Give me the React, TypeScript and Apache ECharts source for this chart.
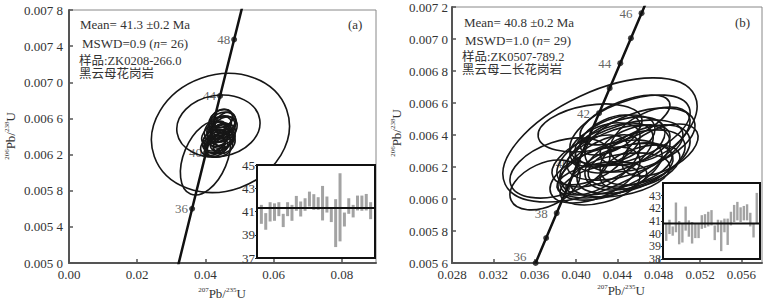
import { useEffect, useRef } from "react";
import * as echarts from "echarts";

// ---------- DATA ----------
// Panel (a) concordia points [207Pb/235U, 206Pb/238U] for ages (Ma)
const concLineA = [
  [0.0320171, 0.0049763],
  [0.0360906, 0.0056001],
  [0.0401803, 0.0062243],
  [0.044286, 0.0068489],
  [0.048408, 0.0074738],
  [0.0515101, 0.0079428],
];
const concDotsA = [
  [0.0360906, 0.0056001, 36],
  [0.0401803, 0.0062243, 40],
  [0.044286, 0.0068489, 44],
  [0.048408, 0.0074738, 48],
];
// Panel (b) concordia points, one per Ma from 36 to 47
const concLineB = [
  [0.0360906, 0.0056001],
  [0.0371114, 0.0057561],
  [0.0381334, 0.0059121],
  [0.0391563, 0.0060682],
  [0.0401803, 0.0062243],
  [0.0412052, 0.0063804],
  [0.0422312, 0.0065365],
  [0.0432581, 0.0066927],
  [0.044286, 0.0068489],
  [0.0453149, 0.0070051],
  [0.0463449, 0.0071613],
  [0.0473759, 0.0073175],
];
const concAgesB = [36, 37, 38, 39, 40, 41, 42, 43, 44, 45, 46, 47];
const labeledAgesB = [36, 38, 40, 42, 44, 46];

// Error ellipses [x, y, half-width x, half-width y, rho]
const ellA = [
  [0.0444, 0.006439, 0.0202, 0.000658, 0.12],
  [0.0438, 0.006516, 0.0122, 0.000343, 0.1],
  [0.04, 0.006162, 0.00735, 0.000409, 0.4],
  [0.0445, 0.00658, 0.0035, 0.00012, 0.3],
  [0.045, 0.00654, 0.004, 0.00013, 0.2],
  [0.044, 0.0065, 0.0036, 0.00012, 0.4],
  [0.0455, 0.00648, 0.0038, 0.00014, 0.3],
  [0.0438, 0.00645, 0.0032, 0.00011, 0.2],
  [0.0452, 0.00642, 0.0036, 0.00012, 0.3],
  [0.0445, 0.0064, 0.004, 0.00013, 0.1],
  [0.0428, 0.00636, 0.0036, 0.00012, 0.3],
  [0.0448, 0.00635, 0.0034, 0.00011, 0.4],
  [0.0435, 0.00633, 0.0038, 0.00012, 0.2],
  [0.0455, 0.00632, 0.0032, 0.00011, 0.3],
  [0.0422, 0.0063, 0.0036, 0.00011, 0.3],
  [0.044, 0.00629, 0.004, 0.00012, 0.2],
  [0.0432, 0.00628, 0.0034, 0.0001, 0.3],
  [0.0458, 0.00655, 0.003, 0.00012, 0.3],
  [0.0425, 0.00644, 0.0036, 0.00013, 0.5],
  [0.0448, 0.0066, 0.0032, 0.0001, 0.2],
  [0.0438, 0.00638, 0.0028, 0.00009, 0.3],
  [0.0457, 0.00638, 0.003, 0.0001, 0.2],
  [0.0427, 0.00632, 0.003, 0.0001, 0.4],
  [0.0447, 0.00646, 0.0028, 0.00009, 0.3],
  [0.0442, 0.00648, 0.0045, 0.00015, 0.3],
  [0.0435, 0.00636, 0.0044, 0.00014, 0.3],
];
const ellB = [
  [0.04232, 0.006369, 0.00939, 0.000388, 0.55],
  [0.04136, 0.006444, 0.00503, 0.00015, 0.3],
  [0.03845, 0.006194, 0.00484, 0.000188, 0.4],
  [0.037, 0.006088, 0.00339, 0.000156, 0.4],
  [0.04523, 0.006431, 0.00581, 0.000219, 0.5],
  [0.04619, 0.006369, 0.00532, 0.0002, 0.45],
  [0.04474, 0.006306, 0.00561, 0.000188, 0.5],
  [0.04377, 0.006244, 0.00532, 0.000219, 0.5],
  [0.04426, 0.006338, 0.00435, 0.000175, 0.45],
  [0.04281, 0.006275, 0.00465, 0.0002, 0.55],
  [0.04571, 0.006244, 0.00484, 0.000188, 0.45],
  [0.04329, 0.006181, 0.00503, 0.000188, 0.5],
  [0.04474, 0.00619, 0.00465, 0.000156, 0.4],
  [0.04232, 0.006213, 0.00387, 0.000188, 0.6],
  [0.04668, 0.006275, 0.00435, 0.000188, 0.45],
  [0.04377, 0.006369, 0.00387, 0.000156, 0.45],
  [0.04523, 0.006213, 0.00406, 0.000138, 0.4],
  [0.04184, 0.00615, 0.00435, 0.000175, 0.5],
  [0.04426, 0.00615, 0.00484, 0.000138, 0.35],
  [0.04716, 0.0064, 0.00387, 0.000175, 0.5],
  [0.04281, 0.006338, 0.00339, 0.000138, 0.4],
  [0.04474, 0.006494, 0.00435, 0.000156, 0.6],
  [0.04619, 0.0062, 0.00387, 0.000138, 0.45],
  [0.04136, 0.006244, 0.00368, 0.000156, 0.5],
  [0.0425, 0.00612, 0.00435, 0.000113, 0.35],
  [0.04571, 0.006338, 0.00339, 0.000125, 0.45],
  [0.04329, 0.0064, 0.0029, 0.000125, 0.5],
  [0.04232, 0.006088, 0.00387, 0.000125, 0.4],
  [0.04813, 0.006306, 0.00368, 0.000163, 0.5],
];

// Inset age bars (Ma): low / high
const insetALow = [39.94, 39.43, 40.14, 40.2, 40.6, 39.66, 40.6, 40.2, 41.06, 40.57, 41.06, 41.43, 41.14, 41.14, 40.23, 40.91, 40.09, 37.94, 38.43, 39.71, 40.8, 40.49, 41.09, 41.06, 41.09, 40.34];
const insetAHigh = [41.57, 40.86, 41.8, 41.7, 41.8, 40.8, 41.8, 41.57, 42.34, 41.86, 42.14, 42.71, 42.49, 42.23, 43.2, 42.29, 41.29, 42.06, 44.29, 40.91, 42.14, 41.57, 42.37, 42.37, 42.51, 41.8];
const meanA = 41.3;
const insetBLow = [39.43, 39.97, 39.84, 40.11, 39.16, 39.3, 40.24, 39.76, 39.22, 39.65, 39.65, 40.38, 40.46, 40.57, 40.65, 39.49, 40.11, 38.62, 40.11, 39.11, 40.65, 40.92, 41.05, 40.92, 41.05, 41.05, 40.57, 39.7, 40.84];
const insetBHigh = [40.84, 41.1, 40.57, 42.46, 41.0, 40.78, 42.14, 41.05, 40.92, 40.84, 40.84, 41.46, 41.54, 41.73, 41.86, 40.65, 41.1, 41.05, 41.19, 41.19, 41.73, 42.27, 42.51, 42.08, 42.19, 42.32, 41.65, 40.78, 43.22];
const meanB = 40.8;

// Tick labels
const xTicksA = [0, 0.02, 0.04, 0.06, 0.08];
const yTicksA = [0.005, 0.0054, 0.0058, 0.0062, 0.0066, 0.007, 0.0074, 0.0078];
const xTicksB = [0.028, 0.032, 0.036, 0.04, 0.044, 0.048, 0.052, 0.056];
const yTicksB = [0.0056, 0.0058, 0.006, 0.0062, 0.0064, 0.0066, 0.0068, 0.007, 0.0072];
const insetTicksA = [37, 39, 41, 43, 45];
const insetTicksB = [38, 39, 40, 41, 42, 43];

// ---------- RENDER ----------
const SERIF = "'Liberation Serif', 'Times New Roman', serif";
const CJK = "'Liberation Serif', 'Noto Sans CJK SC', serif";

function ellipseItem(_p: any, api: any) {
  const c = api.coord([api.value(0), api.value(1)]);
  const s = api.size([api.value(2), api.value(3)], [api.value(0), api.value(1)]);
  const rho = api.value(4);
  const a = s[0] * s[0];
  const d = s[1] * s[1];
  const b = rho * s[0] * s[1];
  const m = (a + d) / 2;
  const h = Math.sqrt(((a - d) / 2) ** 2 + b * b);
  const rx = Math.sqrt(m + h);
  const ry = Math.sqrt(Math.max(m - h, 0));
  const rot = 0.5 * Math.atan2(2 * b, a - d);
  return {
    type: "ellipse",
    x: c[0],
    y: c[1],
    rotation: rot,
    shape: { cx: 0, cy: 0, rx, ry },
    style: { fill: "none", stroke: "#161616", lineWidth: 1.6 },
  };
}

function barItem(w: number) {
  return (_p: any, api: any) => {
    const x = api.value(0);
    const p = api.coord([x, api.value(2)]);
    const q = api.coord([x, api.value(1)]);
    return {
      type: "rect",
      shape: { x: p[0] - w / 2, y: p[1], width: w, height: q[1] - p[1] },
      style: { fill: "#a3a3a3" },
    };
  };
}

const yFmt = (v: number) => {
  const s = v.toFixed(4);
  return s.slice(0, -1) + " " + s.slice(-1);
};

function mainAxis(min: number, max: number, ticks: number[], fmt: (v: number) => string, gridIndex: number, margin: number) {
  return {
    type: "value",
    gridIndex,
    min,
    max,
    axisLine: { show: true, lineStyle: { color: "#555", width: 2 } },
    axisTick: { show: true, inside: true, length: 4, customValues: ticks, lineStyle: { color: "#555", width: 1.5 } },
    axisLabel: {
      show: true, customValues: ticks, formatter: fmt, color: "#333", fontFamily: SERIF, fontSize: 13, margin,
      showMinLabel: true, showMaxLabel: true,
    },
    splitLine: { show: false },
  };
}

function insetYAxis(min: number, max: number, ticks: number[], gridIndex: number, fontSize: number) {
  return {
    type: "value",
    gridIndex,
    min,
    max,
    z: 12,
    axisLine: { show: false },
    axisTick: { show: true, inside: false, length: 2, customValues: ticks, lineStyle: { color: "#222", width: 1 } },
    axisLabel: {
      show: true, customValues: ticks, color: "#333", fontFamily: SERIF, fontSize, lineHeight: fontSize, margin: 2,
      showMinLabel: true, showMaxLabel: true, hideOverlap: false,
    },
    splitLine: { show: false },
  };
}

const richLabel = {
  s: { fontSize: 7, fontFamily: SERIF, fill: "#333", verticalAlign: "top", lineHeight: 13 },
  m: { fontSize: 13, fontFamily: SERIF, fill: "#333", lineHeight: 13 },
};

export default function App() {
  const ref = useRef<HTMLDivElement>(null);
  useEffect(() => {
    if (!ref.current) return;
    const chart = echarts.init(ref.current, undefined, { renderer: "svg" });
    const barsA = insetALow.map((lo, i) => [i + 1, lo, insetAHigh[i]]);
    const barsB = insetBLow.map((lo, i) => [i + 1, lo, insetBHigh[i]]);
    const dotsB = concLineB
      .map((p, i) => [p[0], p[1], concAgesB[i]])
      .filter((p) => p[2] <= 46)
      .map((p, i) => (i === 0 ? { value: p, label: { offset: [0, -6] } } : { value: p }));

    const option: any = {
      animation: false,
      backgroundColor: "#fff",
      grid: [
        { left: 69, top: 10, width: 307, height: 253, show: true, borderColor: "#888", borderWidth: 1, backgroundColor: "transparent" },
        { left: 452, top: 7, width: 310, height: 256, show: true, borderColor: "#888", borderWidth: 1, backgroundColor: "transparent" },
        { left: 257, top: 165, width: 118, height: 93, show: true, borderColor: "#111", borderWidth: 2, backgroundColor: "#fff", z: 10 },
        { left: 663, top: 183, width: 97, height: 76, show: true, borderColor: "#111", borderWidth: 2, backgroundColor: "#fff", z: 10 },
      ],
      xAxis: [
        mainAxis(0, 0.09, xTicksA, (v: number) => v.toFixed(2), 0, 5),
        mainAxis(0.028, 0.058, xTicksB, (v: number) => v.toFixed(3), 1, 5),
        { type: "value", gridIndex: 2, min: 0, max: 27, show: false },
        { type: "value", gridIndex: 3, min: 0, max: 30, show: false },
      ],
      yAxis: [
        mainAxis(0.005, 0.0078, yTicksA, yFmt, 0, 6),
        mainAxis(0.0056, 0.0072, yTicksB, yFmt, 1, 4),
        insetYAxis(37, 45, insetTicksA, 2, 13),
        insetYAxis(38, 44, insetTicksB, 3, 12),
      ],
      series: [
        // panel (a)
        {
          type: "line", xAxisIndex: 0, yAxisIndex: 0, data: concLineA, showSymbol: false, symbol: "none",
          lineStyle: { color: "#111", width: 2.5 }, z: 2, clip: true,
        },
        {
          type: "scatter", xAxisIndex: 0, yAxisIndex: 0, data: concDotsA, symbolSize: 6, itemStyle: { color: "#111" }, z: 2,
          label: { show: true, position: "left", distance: 1, formatter: (p: any) => String(p.value[2]), color: "#3a3a3a", fontFamily: SERIF, fontSize: 13 },
        },
        { type: "custom", xAxisIndex: 0, yAxisIndex: 0, data: ellA, renderItem: ellipseItem, z: 3 },
        // panel (b)
        {
          type: "line", xAxisIndex: 1, yAxisIndex: 1, data: concLineB, showSymbol: false, symbol: "none",
          lineStyle: { color: "#111", width: 2.5 }, z: 2, clip: true,
        },
        {
          type: "scatter", xAxisIndex: 1, yAxisIndex: 1, data: dotsB, symbolSize: 6, itemStyle: { color: "#111" }, z: 2,
          label: {
            show: true, position: "left", distance: 6,
            formatter: (p: any) => (labeledAgesB.includes(p.value[2]) ? String(p.value[2]) : ""),
            color: "#3a3a3a", fontFamily: SERIF, fontSize: 13,
          },
        },
        { type: "custom", xAxisIndex: 1, yAxisIndex: 1, data: ellB, renderItem: ellipseItem, z: 3 },
        // insets
        { type: "custom", xAxisIndex: 2, yAxisIndex: 2, data: barsA, renderItem: barItem(3), z: 12 },
        {
          type: "line", xAxisIndex: 2, yAxisIndex: 2, data: [[0, meanA], [27, meanA]], symbol: "none",
          lineStyle: { color: "#111", width: 2 }, z: 13,
        },
        { type: "custom", xAxisIndex: 3, yAxisIndex: 3, data: barsB, renderItem: barItem(2.4), z: 12 },
        {
          type: "line", xAxisIndex: 3, yAxisIndex: 3, data: [[0, meanB], [30, meanB]], symbol: "none",
          lineStyle: { color: "#111", width: 2 }, z: 13,
        },
      ],
      graphic: [
        { type: "text", x: 80, y: 24, z: 20, style: { text: "Mean= 41.3 ±0.2 Ma", font: `13px ${SERIF}`, fill: "#333", verticalAlign: "middle" } },
        {
          type: "text", x: 82, y: 43, z: 20,
          style: { text: "MSWD=0.9 ({i|n}= 26)", font: `13px ${SERIF}`, fill: "#333", verticalAlign: "middle", rich: { i: { fontStyle: "italic", fontSize: 13, fontFamily: SERIF, fill: "#333" } } },
        },
        { type: "text", x: 79, y: 61, z: 20, style: { text: "样品:ZK0208-266.0", font: `12.5px ${CJK}`, fill: "#333", verticalAlign: "middle" } },
        { type: "text", x: 79, y: 74, z: 20, style: { text: "黑云母花岗岩", font: `12.5px ${CJK}`, fill: "#333", verticalAlign: "middle" } },
        { type: "text", x: 348, y: 24, z: 20, style: { text: "(a)", font: `13px ${SERIF}`, fill: "#333", verticalAlign: "middle" } },

        { type: "text", x: 464, y: 22, z: 20, style: { text: "Mean= 40.8 ±0.2 Ma", font: `13px ${SERIF}`, fill: "#333", verticalAlign: "middle" } },
        {
          type: "text", x: 465, y: 40, z: 20,
          style: { text: "MSWD=1.0 ({i|n}= 29)", font: `13px ${SERIF}`, fill: "#333", verticalAlign: "middle", rich: { i: { fontStyle: "italic", fontSize: 13, fontFamily: SERIF, fill: "#333" } } },
        },
        { type: "text", x: 462, y: 57, z: 20, style: { text: "样品:ZK0507-789.2", font: `12.5px ${CJK}`, fill: "#333", verticalAlign: "middle" } },
        { type: "text", x: 462, y: 70, z: 20, style: { text: "黑云母二长花岗岩", font: `12.5px ${CJK}`, fill: "#333", verticalAlign: "middle" } },
        { type: "text", x: 735, y: 22, z: 20, style: { text: "(b)", font: `13px ${SERIF}`, fill: "#333", verticalAlign: "middle" } },

        // axis titles
        { type: "text", x: 222, y: 293, z: 20, style: { text: "{s|207}{m|Pb/}{s|235}{m|U}", rich: richLabel, align: "center", verticalAlign: "middle" } },
        { type: "text", x: 621, y: 290, z: 20, style: { text: "{s|207}{m|Pb/}{s|235}{m|U}", rich: richLabel, align: "center", verticalAlign: "middle" } },
        { type: "text", x: 10, y: 136, rotation: Math.PI / 2, z: 20, style: { text: "{s|206}{m|Pb/}{s|238}{m|U}", rich: richLabel, align: "center", verticalAlign: "middle" } },
        { type: "text", x: 396, y: 133, rotation: Math.PI / 2, z: 20, style: { text: "{s|206}{m|Pb/}{s|238}{m|U}", rich: richLabel, align: "center", verticalAlign: "middle" } },
      ],
    };
    chart.setOption(option);
    return () => chart.dispose();
  }, []);
  return <div ref={ref} style={{ position: "fixed", left: 0, top: 0, width: 774, height: 302 }} />;
}
